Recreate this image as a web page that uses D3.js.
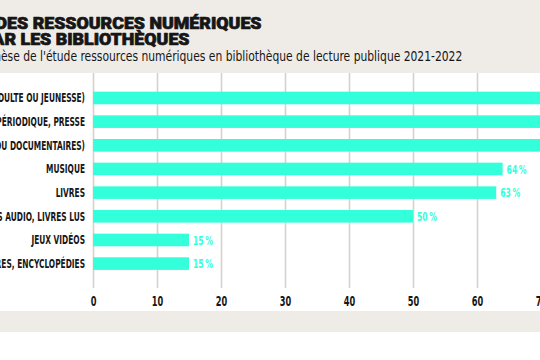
<!DOCTYPE html>
<html><head><meta charset="utf-8">
<script src="https://cdn.jsdelivr.net/npm/d3@7"></script>
<style>html,body{margin:0;padding:0;background:#fff;overflow:hidden}svg{display:block}</style>
</head><body><svg id="c" width="540" height="360"></svg>
<script>
const titleLines = ["LES USAGES DES RESSOURCES NUMÉRIQUES", "PAR LES BIBLIOTHÈQUES"];
const subtitle = "Synthèse de l'étude ressources numériques en bibliothèque de lecture publique 2021-2022";
const categories = [
  "AUTOFORMATION (ADULTE OU JEUNESSE)",
  "MAGAZINES, PÉRIODIQUE, PRESSE",
  "FILMS (FICTIONS OU DOCUMENTAIRES)",
  "MUSIQUE",
  "LIVRES",
  "LIVRES AUDIO, LIVRES LUS",
  "JEUX VIDÉOS",
  "DICTIONNAIRES, ENCYCLOPÉDIES"
];
const values = [92, 86, 78, 64, 63, 50, 15, 15];
const xTicks = [0, 10, 20, 30, 40, 50, 60, 70, 80, 90, 100];

const BEIGE = "#efece8", GRID = "#d8d0ca", BAR = "#33ffdb", INK = "#161616";
const COND = "'Liberation Sans Narrow','DejaVu Sans Condensed','Arial Narrow',sans-serif";
const svg = d3.select("#c");

function measure(txt, font, size, weight) {
  const t = svg.append("text").attr("font-family", font).attr("font-size", size)
    .attr("font-weight", weight).text(txt);
  const w = t.node().getComputedTextLength();
  t.remove();
  return w;
}

// backgrounds
svg.append("rect").attr("x", 0).attr("y", 0).attr("width", 540).attr("height", 73).attr("fill", BEIGE);
svg.append("rect").attr("x", 0).attr("y", 311).attr("width", 540).attr("height", 21).attr("fill", BEIGE);

// title (visible suffixes: "DES RESSOURCES NUMÉRIQUES" ends ~262, "R LES BIBLIOTHÈQUES" ends ~190)
const TF = "Roboto, 'Noto Sans', sans-serif";
const TS = 16.5;
const suf1 = measure("DES RESSOURCES NUMÉRIQUES", TF, TS, 900);
const kt = 266 / suf1;
const titleEnds = [261.5, 189.5];
titleLines.forEach((l, i) => {
  svg.append("text").attr("transform", `translate(${titleEnds[i]},${29 + i * 16}) scale(${kt},1)`)
    .attr("text-anchor", "end")
    .attr("font-family", TF).attr("font-size", TS).attr("font-weight", 900)
    .attr("fill", INK).attr("stroke", INK).attr("stroke-width", 0.7)
    .attr("stroke-linejoin", "round").text(l);
});
// subtitle
const SF = COND;
const fullS = measure(subtitle, SF, 14, 400);
const sufS = measure(subtitle.slice(5), SF, 14, 400);
const ks = 462 / sufS;
svg.append("text").attr("transform", `translate(${463 - ks * fullS},60.5) scale(${ks},1)`)
  .attr("font-family", SF).attr("font-size", 14).attr("fill", INK).text(subtitle);

// scales
const x = d3.scaleLinear().domain([0, 100]).range([93, 733]);
const y = d3.scaleBand().domain(categories).range([75.1, 286.5]).paddingInner(0.467).paddingOuter(0.7);

// grid / axis
const ax = svg.append("g").attr("transform", "translate(0,288)")
  .call(d3.axisBottom(x).tickValues(xTicks).tickSize(-215).tickPadding(8).tickFormat(d3.format("d")));
ax.select(".domain").remove();
ax.selectAll(".tick line").attr("stroke", GRID).attr("stroke-width", 1.6);
const kTick = 11.5 / measure("60", COND, 13.5, 700);
ax.selectAll(".tick text").attr("fill", INK).attr("font-family", COND).attr("font-size", 13.5)
  .attr("font-weight", 700).attr("transform", `scale(${kTick},1)`);

// bars
svg.append("g").selectAll("rect").data(categories).join("rect")
  .attr("x", x(0)).attr("y", d => y(d))
  .attr("width", (d, i) => x(values[i]) - x(0)).attr("height", y.bandwidth())
  .attr("fill", BAR);

// category labels
const kCat = 39 / measure("MUSIQUE", COND, 12.5, 700);
svg.append("g").selectAll("text").data(categories).join("text")
  .attr("transform", d => `translate(85,${y(d) + y.bandwidth() / 2}) scale(${kCat},1)`)
  .attr("dy", "0.36em").attr("text-anchor", "end")
  .attr("font-family", COND).attr("font-size", 12.5).attr("font-weight", 700)
  .attr("fill", INK).text(d => d);

// value labels
const fmt = v => v + "\u2009%";
const kVal = 20 / measure(fmt(64), COND, 13, 700);
svg.append("g").selectAll("text").data(categories).join("text")
  .attr("transform", (d, i) => `translate(${x(values[i]) + 4},${y(d) + y.bandwidth() / 2}) scale(${kVal},1)`)
  .attr("dy", "0.36em")
  .attr("font-family", COND).attr("font-size", 13).attr("font-weight", 700)
  .attr("fill", BAR).text((d, i) => fmt(values[i]));
</script></body></html>
